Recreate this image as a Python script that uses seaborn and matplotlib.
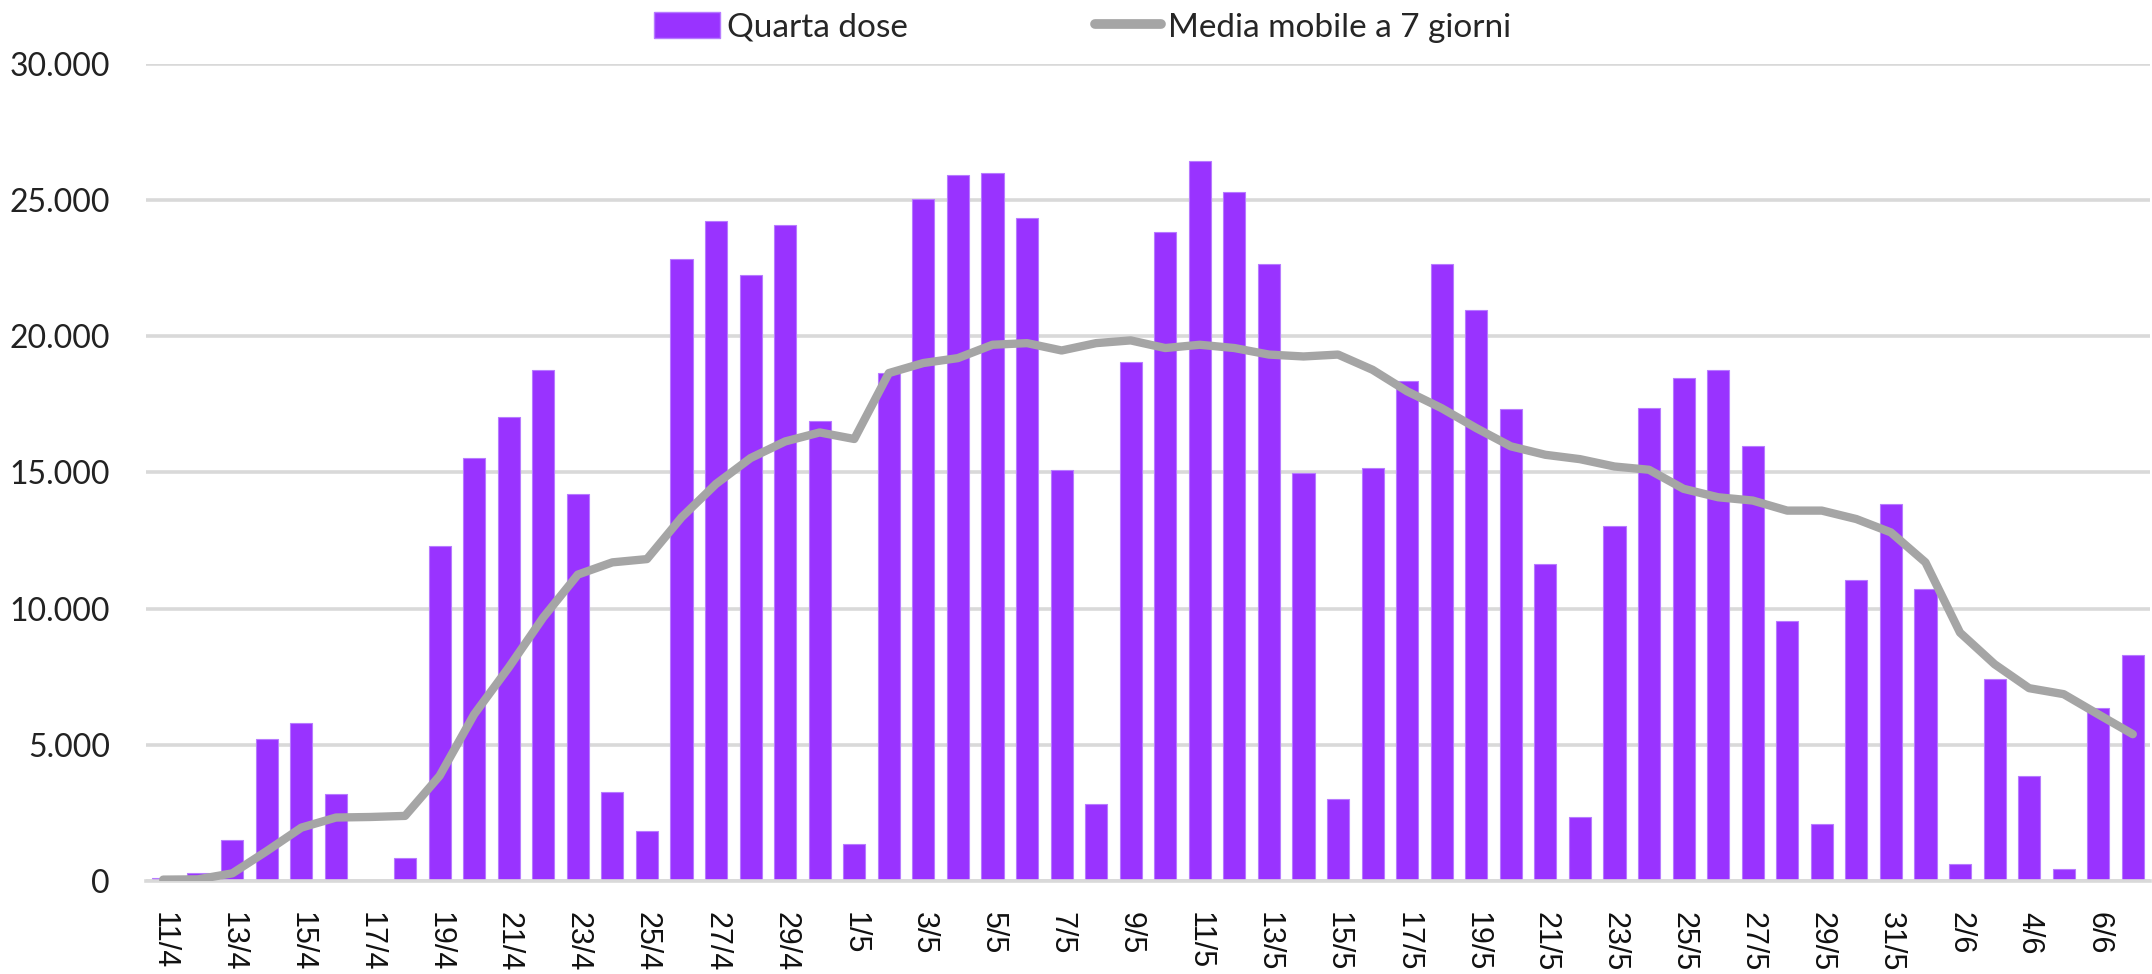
import numpy as np
import pandas as pd
import seaborn as sns
import matplotlib.pyplot as plt
from matplotlib.patches import Patch
from matplotlib.lines import Line2D

# giorni dall'11/4 al 7/6
giorni = [f"{d.day}/{d.month}" for d in pd.date_range("2022-04-11", "2022-06-07")]

# quarta dose, somministrazioni giornaliere
dosi = [100, 300, 1500, 5200, 5800, 3200, 0, 850, 12300, 15550,
        17030, 18770, 14210, 3250, 1850, 22850, 24250, 22260, 24070, 16900,
        1370, 18650, 25060, 25930, 25990, 24360, 15100, 2840, 19050, 23830,
        26440, 25290, 22670, 14980, 3000, 15160, 18370, 22670, 20980, 17330,
        11640, 2360, 13030, 17380, 18480, 18770, 15980, 9560, 2080, 11060,
        13840, 10720, 610, 7410, 3870, 450, 6370, 8280]

# media mobile a 7 giorni
media = [50, 60, 280, 1100, 1960, 2330, 2350, 2390, 3860, 6120,
         7840, 9680, 11250, 11700, 11820, 13350, 14580, 15530, 16140, 16470,
         16230, 18650, 19020, 19200, 19690, 19750, 19480, 19750, 19850, 19570,
         19690, 19570, 19330, 19260, 19330, 18770, 17980, 17360, 16630, 15960,
         15650, 15490, 15220, 15100, 14400, 14090, 13970, 13600, 13600, 13290,
         12800, 11700, 9120, 7960, 7080, 6860, 6120, 5390]

df = pd.DataFrame({"giorno": giorni, "dosi": dosi, "media": media})

viola = "#9933FF"
grigio = "#A5A5A5"
griglia = "#D9D9D9"

sns.set_style("white")
fig = plt.figure(figsize=(21.52, 9.74), dpi=100)
ax = fig.add_axes([0.0678, 0.0955, 0.9313, 0.8388])

sns.barplot(data=df, x="giorno", y="dosi", color=viola, width=0.64,
            saturation=1, edgecolor="#B77BFF", linewidth=0.8, ax=ax, zorder=2)
sns.lineplot(x=np.arange(len(df)), y=df["media"], color=grigio, linewidth=6,
             ax=ax, zorder=3, solid_capstyle="round", solid_joinstyle="round")

ax.set_ylim(0, 30000)
ax.set_xlim(-0.5, len(df) - 0.5)
ax.set_yticks(range(0, 30001, 5000))
ax.set_yticklabels([f"{v:,}".replace(",", ".") for v in range(0, 30001, 5000)],
                   fontsize=23, family="Lato", color="#222222")
ax.grid(axis="y", color=griglia, linewidth=2.6, zorder=0)
ax.set_axisbelow(True)

# etichette ogni due giorni, tacche tra le categorie
ax.set_xticks(range(0, len(df), 2))
ax.set_xticklabels(giorni[::2], rotation=270, fontsize=22,
                   family="Liberation Sans", color="#111111", va="top", ha="center")
ax.set_xticks(np.arange(-0.5, len(df), 2), minor=True)
ax.tick_params(axis="x", which="major", length=0, pad=22)
ax.tick_params(axis="x", which="minor", length=9, width=1.8, color=griglia)
ax.tick_params(axis="y", length=0, pad=26)

for s in ["top", "right", "left"]:
    ax.spines[s].set_visible(False)
ax.spines["bottom"].set_color(griglia)
ax.spines["bottom"].set_linewidth(2.6)
ax.set_xlabel("")
ax.set_ylabel("")

handles = [Patch(facecolor=viola, edgecolor="#B77BFF"),
           Line2D([0], [0], color=grigio, linewidth=7, solid_capstyle="round")]
fig.legend(handles, ["Quarta dose", "Media mobile a 7 giorni"], loc="center",
           bbox_to_anchor=(0.503, 0.972), ncol=2, frameon=False,
           prop={"family": "Lato", "size": 24}, handlelength=2.0,
           handleheight=0.85, handletextpad=0.2, columnspacing=5.6)

fig.savefig("out.png", dpi=100)
